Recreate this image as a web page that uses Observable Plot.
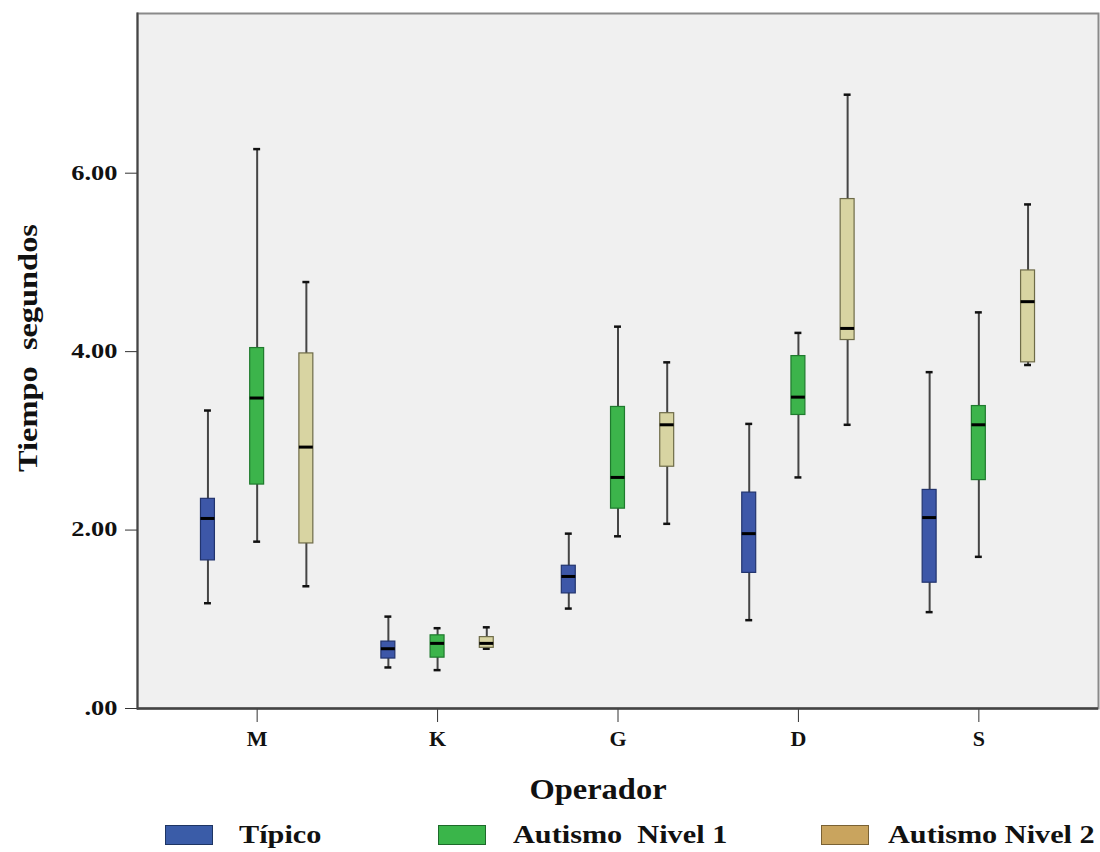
<!DOCTYPE html>
<html><head><meta charset="utf-8">
<script src="https://cdn.jsdelivr.net/npm/d3@7"></script>
<script src="https://cdn.jsdelivr.net/npm/@observablehq/plot@0.6"></script>
<style>
body{margin:0;background:#fff;font-family:"Liberation Serif","Times New Roman",serif;}
#chart{width:1100px;height:815px;}
#legend{position:relative;height:37px;width:1100px;}
.sw{position:absolute;top:10px;width:46px;height:18px;border:1px solid;}
.lab{position:absolute;top:7px;font-weight:bold;font-size:25px;line-height:25px;white-space:pre;transform-origin:left center;transform:scaleX(1.21);color:#111;}
</style></head><body><div id="chart"></div><div id="legend"></div>
<script>
// ---- data ----
const categories = ["M", "K", "G", "D", "S"];
const groups = ["Típico", "Autismo  Nivel 1", "Autismo Nivel 2"];
// rows: Típico, Autismo Nivel 1, Autismo Nivel 2 ; columns: M, K, G, D, S
const whiskerLow = [
  [1.18, 0.46, 1.12, 0.99, 1.08],
  [1.87, 0.43, 1.93, 2.59, 1.70],
  [1.37, 0.67, 2.07, 3.18, 3.85]
];
const quartile1 = [
  [1.66, 0.56, 1.29, 1.52, 1.41],
  [2.51, 0.57, 2.24, 3.29, 2.56],
  [1.85, 0.68, 2.71, 4.13, 3.88]
];
const medians = [
  [2.13, 0.67, 1.48, 1.96, 2.14],
  [3.48, 0.73, 2.59, 3.49, 3.18],
  [2.93, 0.73, 3.18, 4.26, 4.56]
];
const quartile3 = [
  [2.35, 0.75, 1.60, 2.42, 2.45],
  [4.04, 0.82, 3.38, 3.95, 3.39],
  [3.98, 0.80, 3.31, 5.71, 4.91]
];
const whiskerHigh = [
  [3.34, 1.03, 1.96, 3.19, 3.77],
  [6.27, 0.90, 4.28, 4.21, 4.44],
  [4.78, 0.91, 3.88, 6.88, 5.65]
];
const yTicks = [0, 2, 4, 6];

// ---- styles ----
const boxFill = ["#3d57a8", "#3cb44b", "#d8d4a2"];
const boxStroke = ["#22346e", "#1f7a2e", "#6e6b48"];
const legendFill = ["#3a5ca8", "#3ab54a", "#c9a45e"];
const legendStroke = ["#1e3563", "#1d6a2a", "#7a6234"];

// ---- table ----
const rows = [];
groups.forEach((g, gi) => categories.forEach((c, ci) => rows.push({
  op: c, group: g, gi, key: c + "|" + g,
  lo: whiskerLow[gi][ci], q1: quartile1[gi][ci], med: medians[gi][ci],
  q3: quartile3[gi][ci], hi: whiskerHigh[gi][ci]
})));

// band domain: boxes plus spacer slots (layout only)
const xDomain = [];
categories.forEach((c, ci) => {
  groups.forEach((g, gi) => {
    xDomain.push(c + "|" + g);
    if (gi < groups.length - 1) { xDomain.push(c + "|s" + gi + "a"); xDomain.push(c + "|s" + gi + "b"); }
  });
  if (ci < categories.length - 1) for (let k = 0; k < 4; k++) xDomain.push(c + "|gap" + k);
});
const xTicks = categories.map(c => c + "|" + groups[1]);

const boxMarks = groups.map((g, gi) => {
  const d = rows.filter(r => r.gi === gi);
  return [
    Plot.ruleX(d, {x: "key", y1: "lo", y2: "hi", stroke: "#454545", strokeWidth: 2}),
    Plot.tickY(d, {x: "key", y: "lo", stroke: "#111", strokeWidth: 2.5, insetLeft: 3.5, insetRight: 3.5}),
    Plot.tickY(d, {x: "key", y: "hi", stroke: "#111", strokeWidth: 2.5, insetLeft: 3.5, insetRight: 3.5}),
    Plot.barY(d, {x: "key", y1: "q1", y2: "q3", fill: boxFill[gi], stroke: boxStroke[gi], strokeWidth: 1.2}),
    Plot.tickY(d, {x: "key", y: "med", stroke: "#000", strokeWidth: 3})
  ];
});

const chart = Plot.plot({
  width: 1100, height: 815,
  marginLeft: 137, marginRight: 2, marginTop: 13, marginBottom: 107,
  style: {fontFamily: "'Liberation Serif', 'Times New Roman', serif", background: "white", color: "#111"},
  x: {type: "band", domain: xDomain, paddingInner: 0.15, paddingOuter: 3.87, round: false},
  y: {domain: [0, 7.79]},
  marks: [
    Plot.frame({fill: "#f0f0f0", stroke: "#8a8a8a", strokeWidth: 2}),
    ...boxMarks.flat(),
    Plot.axisY({ticks: yTicks, tickFormat: d => d === 0 ? ".00" : d.toFixed(2), tickSize: 12, tickPadding: 8,
      fontSize: 20, fontWeight: "bold", stroke: "#333",
      label: "Tiempo  segundos", labelAnchor: "center", labelOffset: 112, labelArrow: "none"}),
    Plot.axisX({ticks: xTicks, tickFormat: d => d.split("|")[0], tickSize: 14, tickPadding: 8,
      fontSize: 22, fontWeight: "bold", stroke: "#333",
      label: "Operador", labelAnchor: "center", labelOffset: 90, labelArrow: "none"}),
    Plot.frame({anchor: "left", stroke: "#444", strokeWidth: 2}),
    Plot.ruleY([0], {stroke: "#444", strokeWidth: 2.5})
  ]
});
document.getElementById("chart").appendChild(chart);

// label styling
const svg = d3.select(chart);
svg.selectAll('[aria-label="y-axis label"] text').attr("font-size", 27).attr("font-weight", "bold");
svg.selectAll('[aria-label="x-axis label"] text').attr("font-size", 29).attr("font-weight", "bold");
function stretch(sel, f) {
  sel.each(function () {
    const L = this.getComputedTextLength();
    this.setAttribute("textLength", L * f);
    this.setAttribute("lengthAdjust", "spacingAndGlyphs");
  });
}
function shift(sel, dx, dy) {
  sel.each(function () {
    const t = this.getAttribute("transform") || "";
    this.setAttribute("transform", `translate(${dx},${dy}) ` + t);
  });
}
stretch(svg.selectAll('[aria-label="y-axis tick label"] text'), 1.32);
stretch(svg.selectAll('[aria-label="y-axis label"] text'), 1.2);
stretch(svg.selectAll('[aria-label="x-axis label"] text'), 1.12);
shift(svg.selectAll('[aria-label="y-axis label"] text'), -8, -13);
shift(svg.selectAll('[aria-label="x-axis label"] text'), -20, 0);

// legend
const legendPos = [[165, 239], [438, 513], [821, 888]];
const legend = d3.select("#legend");
groups.forEach((g, gi) => {
  legend.append("div").attr("class", "sw")
    .style("left", legendPos[gi][0] + "px")
    .style("background", legendFill[gi]).style("border-color", legendStroke[gi]);
  legend.append("div").attr("class", "lab")
    .style("left", legendPos[gi][1] + "px").text(g);
});
</script>
</body></html>
